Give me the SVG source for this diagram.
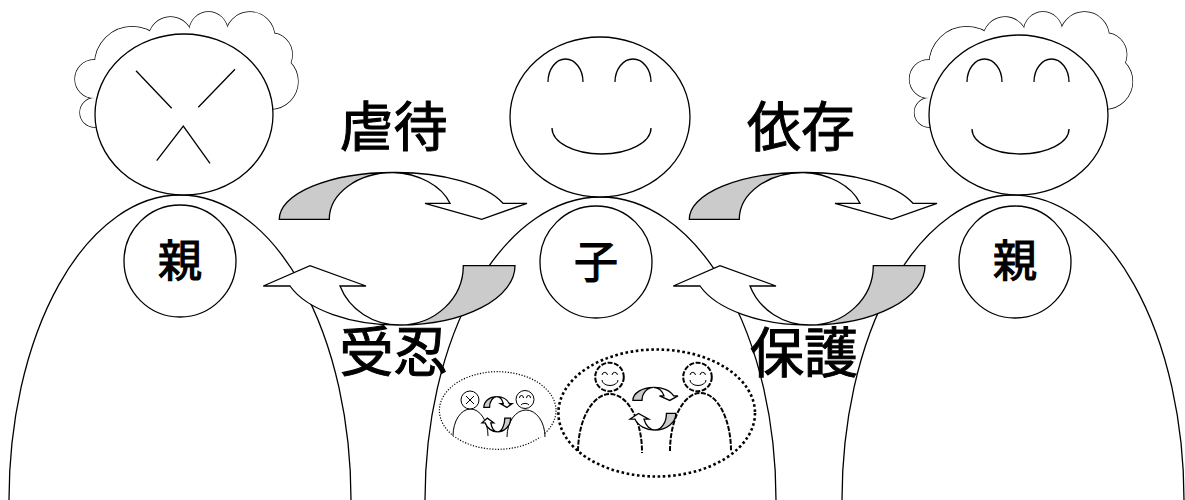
<svg xmlns="http://www.w3.org/2000/svg" xmlns:xlink="http://www.w3.org/1999/xlink" width="1185" height="500" viewBox="0 0 1185 500">
  <style>
    .body { fill: none; stroke: #000; stroke-width: 1.3; }
    .ln { fill: #fff; stroke: #000; stroke-width: 1.3; }
    .stk { fill: none; stroke: #000; stroke-width: 1.3; }
    .hairline { fill: none; stroke: #000; stroke-width: 1.3; }
    .hairfill { fill: #fff; stroke: none; }
    .back { fill: #cbcbcb; stroke: #000; stroke-width: 1.3; stroke-linejoin: miter; }
    .front { fill: #fff; stroke: #000; stroke-width: 1.3; stroke-linejoin: miter; }
    .big { font-family: "Noto Sans CJK JP", "Noto Sans CJK SC", sans-serif; font-size: 54px; font-weight: normal; fill: #000; stroke: #000; stroke-width: 1; }
    .tag { font-family: "Noto Sans CJK JP", "Noto Sans CJK SC", sans-serif; font-size: 44px; font-weight: normal; fill: #000; stroke: #000; stroke-width: 1.2; text-anchor: middle; }
    .dotS { fill: none; stroke: #000; stroke-width: 1.2; stroke-dasharray: 1.2 1.6; }
    .dotL { fill: none; stroke: #000; stroke-width: 2.6; stroke-dasharray: 2.6 2.6; }
    .dash { fill: #fff; stroke: #000; stroke-width: 2; stroke-dasharray: 5 1.5; }
    .thin { fill: #fff; stroke: #000; stroke-width: 1; }
    .face { fill: none; stroke: #000; stroke-width: 1; }
  </style>
  <defs>
    <!-- curly hair: outline pass, then white fill pass to erase inner arcs -->
    <g id="hair">
      <g class="hairline">
        <circle cx="94.6" cy="112.5" r="14.6"/>
        <circle cx="94.1" cy="79" r="19.1"/>
        <circle cx="132.2" cy="64.1" r="37.4"/>
        <circle cx="170.5" cy="39" r="22"/>
        <circle cx="208.5" cy="31.2" r="19.2"/>
        <circle cx="250" cy="36.5" r="24.5"/>
        <circle cx="270.7" cy="54.4" r="21.5"/>
        <circle cx="270.4" cy="81.5" r="27.6"/>
      </g>
      <g class="hairfill">
        <circle cx="94.6" cy="112.5" r="14.6"/>
        <circle cx="94.1" cy="79" r="19.1"/>
        <circle cx="132.2" cy="64.1" r="37.4"/>
        <circle cx="170.5" cy="39" r="22"/>
        <circle cx="208.5" cy="31.2" r="19.2"/>
        <circle cx="250" cy="36.5" r="24.5"/>
        <circle cx="270.7" cy="54.4" r="21.5"/>
        <circle cx="270.4" cy="81.5" r="27.6"/>
        <polygon points="94.6,112.5 94.1,79 132.2,64.1 170.5,39 208.5,31.2 250,36.5 270.7,54.4 270.4,81.5 184,114"/>
      </g>
    </g>
    <!-- pair of twisted curved arrows (top: rightward, bottom: leftward) -->
    <g id="cycle">
      <path class="back" vector-effect="non-scaling-stroke" d="M279.3,219.3 A113.7,46.8 0 0 1 393,172.5 A63.7,46.8 0 0 0 329.3,219.3 Z"/>
      <path class="front" vector-effect="non-scaling-stroke" d="M393,172.5 A113.7,46.8 0 0 1 503,203.3 L527,203.3 L481.7,219.3 L425,203.3 L450,203.3 A63.7,46.8 0 0 0 393,172.5 Z"/>
      <path class="back" vector-effect="non-scaling-stroke" d="M515,265.7 A115,59.3 0 0 1 400,325 A63.3,59.3 0 0 0 463.3,265.7 Z"/>
      <path class="front" vector-effect="non-scaling-stroke" d="M400,325 A115,59.3 0 0 1 290,286 L263.3,286 L310,265.7 L366,286 L340,286 A63.3,59.3 0 0 0 400,325 Z"/>
    </g>
  </defs>

  <!-- left parent -->
  <g id="parent-left">
    <path class="body" d="M9,500 A171,305 0 0 1 351,500"/>
    <use xlink:href="#hair" href="#hair"/>
    <ellipse class="ln" cx="184" cy="114.5" rx="89" ry="80.5"/>
    <path class="stk" d="M136,70.7 L171.7,108.3 M235,69.3 L198.3,107.3 M156.7,160.7 L183.3,126 L210,163.3"/>
    <circle class="ln" cx="180" cy="261" r="56"/>
    <text class="tag" x="180" y="277">親</text>
  </g>

  <!-- child -->
  <g id="child">
    <path class="body" d="M425,500 A175.5,303 0 0 1 776,500"/>
    <ellipse class="ln" cx="600" cy="117" rx="90" ry="80"/>
    <path class="stk" d="M548,82 A17.5,23 0 0 1 583,82 M615,82 A18,23 0 0 1 651,82 M552,128 A49.5,26 0 0 0 651,128"/>
    <circle class="ln" cx="596" cy="262" r="56"/>
    <text class="tag" x="596" y="278">子</text>
  </g>

  <!-- right parent -->
  <g id="parent-right">
    <path class="body" d="M842,500 A171,305 0 0 1 1184,500"/>
    <use xlink:href="#hair" href="#hair" transform="translate(834.5,0)"/>
    <ellipse class="ln" cx="1018.5" cy="115" rx="89.5" ry="80"/>
    <path class="stk" d="M967,82 A17.5,23 0 0 1 1002,82 M1034,82 A17.5,23 0 0 1 1069,82 M972,129 A48.5,25 0 0 0 1069,129"/>
    <circle class="ln" cx="1015" cy="262" r="56"/>
    <text class="tag" x="1015" y="277">親</text>
  </g>

  <!-- connectors: cycling arrows between the figures -->
  <g id="connectors">
    <use xlink:href="#cycle" href="#cycle"/>
    <use xlink:href="#cycle" href="#cycle" transform="translate(410,0)"/>
  </g>

  <!-- relation labels -->
  <g id="labels">
    <text class="big" x="393.5" y="147" text-anchor="middle">虐待</text>
    <text class="big" x="801" y="147" text-anchor="middle">依存</text>
    <text class="big" x="393.5" y="372" text-anchor="middle">受忍</text>
    <text class="big" x="804" y="373" text-anchor="middle">保護</text>
  </g>

  <!-- small scene: hurt pair -->
  <g id="scene-hurt">
    <ellipse class="dotS" cx="497.7" cy="410.5" rx="58.3" ry="38.8"/>
    <path class="thin" d="M453,436 A17.5,27 0 0 1 488,436"/>
    <path class="thin" d="M507,437 A19,27 0 0 1 545,437"/>
    <circle class="thin" cx="470" cy="400" r="9"/>
    <path class="face" d="M466,396 L474,404 M474,396 L466,404"/>
    <circle class="thin" cx="525" cy="399.5" r="9"/>
    <path class="face" d="M519.5,398 A2,2.5 0 0 1 523.5,398 M526.5,398 A2,2.5 0 0 1 530.5,398 M521,405 A4.5,3 0 0 1 529,405"/>
    <use xlink:href="#cycle" href="#cycle" transform="translate(452,357) scale(0.114,0.23)"/>
  </g>

  <!-- small scene: healthy pair -->
  <g id="scene-healthy">
    <ellipse class="dotL" cx="656.7" cy="413" rx="98.3" ry="63.5"/>
    <path class="dash" d="M578,451 A32,58 0 0 1 642,453"/>
    <path class="dash" d="M670,451 A30.5,58 0 0 1 731,451"/>
    <circle class="dash" cx="609.5" cy="377" r="14.3"/>
    <path class="face" d="M602,375 A2.8,3.3 0 0 1 607.5,375 M612,375 A2.8,3.3 0 0 1 617.5,375 M602,380 A8,5.5 0 0 0 618,380"/>
    <circle class="dash" cx="697.5" cy="377" r="14.3"/>
    <path class="face" d="M690,375 A2.8,3.3 0 0 1 695.5,375 M700,375 A2.8,3.3 0 0 1 705.5,375 M690,380 A8,5.5 0 0 0 706,380"/>
    <use xlink:href="#cycle" href="#cycle" transform="translate(582.1,339) scale(0.182,0.28)"/>
  </g>
</svg>
